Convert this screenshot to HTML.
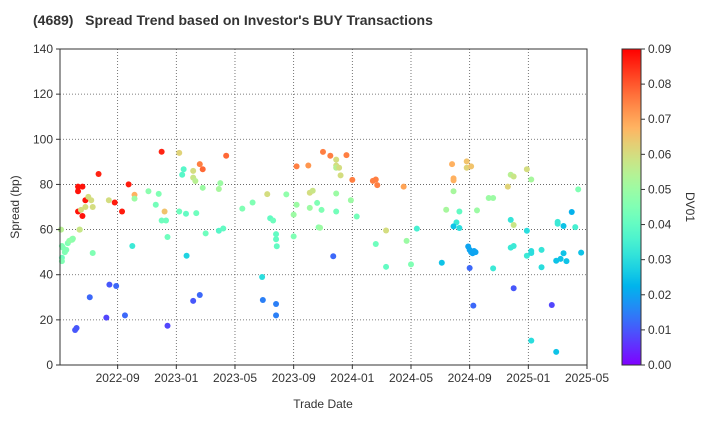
<!DOCTYPE html>
<html><head><meta charset="utf-8"><style>
body{margin:0;background:#fff;font-family:"Liberation Sans",Arial,sans-serif}
svg text{font-family:"Liberation Sans",Arial,sans-serif}
</style></head><body>
<svg id="chart" width="720" height="420" xmlns="http://www.w3.org/2000/svg">
<text x="33" y="25" font-size="14" font-weight="bold" fill="#333" xml:space="preserve" style="white-space:pre">(4689)   Spread Trend based on Investor's BUY Transactions</text>
<g id="grid"></g>
<g id="points"></g>
<g id="axes"></g>
<text x="323" y="408" font-size="12" text-anchor="middle" fill="#333">Trade Date</text>
<text transform="translate(19,207) rotate(-90)" font-size="12" text-anchor="middle" fill="#333">Spread (bp)</text>
<g id="cbar"></g>
<text transform="translate(686,207) rotate(90)" font-size="12" text-anchor="middle" fill="#333">DV01</text>
</svg>
<script>
// months since 2022-09, spread (bp), DV01
const xMonths=[-3.86,-3.73,-3.8,-3.6,-3.4,-3.1,-3.05,-2.58,-1.7,-2.7,-2.4,-2.7,-1.3,-2.2,-2.7,-2.4,0.3,-0.2,0.75,3,-2,-1.8,-2.2,-1.7,-2.5,-0.6,-2.6,1.15,1.15,2.1,2.8,2.6,3.2,3.0,3.3,3.4,1.0,-3.1,-3.3,-3.8,-3.5,-3.8,-2.9,-2.8,-1.9,-0.56,-0.1,-0.77,0.5,3.4,4.2,4.5,4.4,5.15,5.6,5.8,5.15,5.3,5.8,7.0,6.9,7.4,4.2,4.66,5.36,4.7,6.0,6.9,7.2,5.6,5.15,8.5,9.2,10.2,11.5,10.4,10.6,10.8,10.8,10.85,9.85,9.9,10.8,10.8,12.2,13.0,14.0,12.0,12.2,13.1,13.1,13.3,13.6,13.9,13.7,12.0,14.5,15.6,14.9,14.9,14.9,15.1,15.2,16.0,17.4,17.6,17.7,19.5,14.9,15.9,14.9,16.3,13.8,18.3,19.7,17.6,18.3,20.0,14.7,20.4,22.1,22.8,23.8,23.8,24.1,22.9,22.9,22.9,22.4,23.3,24.5,23.1,22.9,23.3,25.3,25.6,23.9,24.0,24.1,24.2,24.3,24.4,24.0,25.6,24.25,27.0,29.6,26.8,27.0,27.9,28.2,26.6,26.8,27.0,27.9,26.8,27.0,27.9,28.2,28.2,28.9,28.9,28.2,29.9,30.0,30.0,30.4,30.96,31.2,31.4,30.4,30.2,29.9,30.6,31.6];
const spreads=[60,52,47.5,50,54,55.5,56,60,49.6,79,79,77,84.6,73,68,66,68,72,80,94.5,74.5,73,70,70,68.7,73,60,75.4,73.7,77,75.8,71,68,64,64,56.7,52.7,55.8,55,52.7,51,46,15.5,16.4,30,35.6,35,21,22,17.4,94,86.7,84.3,86,89,86.7,83,81.5,78.5,80.6,78,92.7,68,67,67.3,48.4,58.3,59.5,60.5,31,28.4,69.3,72,75.7,75.6,65,64,58,55.7,52.6,39,28.8,27,22,88,88.4,94.4,66.6,71,69.6,76.3,77.2,71.8,68.7,61,57,92.7,93,91,88.4,87.4,87.4,84,82,81.6,82.2,79.7,79,76,73,68,65.8,60.8,59.6,55,53.6,43.5,44.6,48.2,60.4,45.3,89,90.2,87.4,88,82.7,81.8,77,68.8,68,68.5,63.2,61.4,60.7,74,74,52.5,51,50,49.5,50.5,50,43,42.8,26.3,34,26.6,84.3,83.5,86.7,82.2,79,64.3,62,59.5,52,52.7,48.4,50.5,49.6,51,43.3,10.8,5.8,63.4,62.6,61.6,67.8,61.1,77.8,49.5,47,46.2,46,49.8];
const dv01=[.055,.045,.042,.045,.045,.048,.05,.055,.045,.088,.088,.088,.086,.088,.088,.088,.087,.087,.087,.086,.06,.06,.06,.06,.06,.06,.058,.068,.05,.047,.045,.043,.065,.042,.042,.042,.033,.047,.048,.045,.045,.045,.01,.01,.012,.01,.012,.008,.012,.008,.062,.038,.038,.06,.075,.078,.058,.055,.05,.05,.052,.078,.042,.04,.042,.028,.042,.038,.04,.012,.01,.045,.045,.06,.048,.04,.042,.04,.04,.04,.03,.015,.015,.015,.075,.072,.075,.05,.05,.05,.06,.058,.045,.045,.047,.045,.075,.075,.06,.06,.055,.06,.06,.075,.075,.075,.075,.07,.05,.05,.043,.043,.05,.06,.05,.042,.04,.045,.012,.035,.025,.068,.065,.062,.065,.068,.068,.052,.052,.04,.05,.033,.025,.03,.05,.05,.02,.02,.02,.02,.02,.02,.012,.033,.012,.01,.008,.055,.058,.06,.052,.062,.032,.058,.03,.033,.033,.033,.03,.03,.032,.03,.03,.025,.033,.033,.025,.022,.035,.045,.025,.025,.025,.025,.025];
const xTickLabels=["2022-09","2023-01","2023-05","2023-09","2024-01","2024-05","2024-09","2025-01","2025-05"];
const xTickMonths=[0,4,8,12,16,20,24,28,32];
const yTicks=[0,20,40,60,80,100,120,140];
const cTicks=[0,0.01,0.02,0.03,0.04,0.05,0.06,0.07,0.08,0.09];

const L=60,R=587,T=49,B=365,xmin=-3.93,xmax=32,ymax=140,cmax=0.09;
const xs=m=>L+(m-xmin)/(xmax-xmin)*(R-L);
const ys=v=>B-v/ymax*(B-T);
const NS="http://www.w3.org/2000/svg";
function mk(tag,attrs,parent){const e=document.createElementNS(NS,tag);for(const k in attrs)e.setAttribute(k,attrs[k]);parent.appendChild(e);return e;}
function rainbow(t){t=Math.max(0,Math.min(1,t));const r=Math.min(1,Math.abs(2*t-0.5)),g=Math.sin(Math.PI*t),b=Math.cos(Math.PI*t/2);return `rgb(${Math.round(r*255)},${Math.round(g*255)},${Math.round(b*255)})`;}
const grid=document.getElementById('grid'),axes=document.getElementById('axes'),pts=document.getElementById('points'),cb=document.getElementById('cbar');
yTicks.forEach(v=>{const y=ys(v);
 const g=mk('line',{x1:L,x2:R,y1:y,y2:y,stroke:'#555','stroke-width':0.8,'stroke-dasharray':'1,2'},grid);
 
 mk('line',{x1:L-4,x2:L,y1:y,y2:y,stroke:'#333'},axes);
 const t=mk('text',{x:L-7,y:y+4,'font-size':12,'text-anchor':'end',fill:'#333'},axes);t.textContent=v;
 });
xTickMonths.forEach((m,i)=>{const x=xs(m);
 const g=mk('line',{x1:x,x2:x,y1:T,y2:B,stroke:'#555','stroke-width':0.8,'stroke-dasharray':'1,2'},grid);
 
 mk('line',{x1:x,x2:x,y1:B,y2:B+4,stroke:'#333'},axes);
 const t=mk('text',{x:x,y:B+17,'font-size':12,'text-anchor':'middle',fill:'#333'},axes);t.textContent=xTickLabels[i];
 });
const fr=mk('rect',{x:L,y:T,width:R-L,height:B-T,fill:'none',stroke:'#333','stroke-width':1},axes);

xMonths.forEach((m,i)=>{const c=mk('circle',{cx:xs(m),cy:ys(spreads[i]),r:3,fill:rainbow(dv01[i]/cmax)},pts);
 });
const CX=622,CW=19;
const defs=mk('defs',{},cb);const lg=mk('linearGradient',{id:'cg',x1:0,y1:1,x2:0,y2:0},defs);
for(let i=0;i<=20;i++)mk('stop',{offset:i/20,'stop-color':rainbow(i/20)},lg);
const cr=mk('rect',{x:CX,y:T,width:CW,height:B-T,fill:'url(#cg)',stroke:'#333','stroke-width':1},cb);

cTicks.forEach(v=>{const y=B-v/cmax*(B-T);
 mk('line',{x1:CX+CW,x2:CX+CW+4,y1:y,y2:y,stroke:'#333'},cb);
 const t=mk('text',{x:CX+CW+7,y:y+4,'font-size':12,fill:'#333'},cb);t.textContent=v.toFixed(2);
 });
</script>
</body></html>
